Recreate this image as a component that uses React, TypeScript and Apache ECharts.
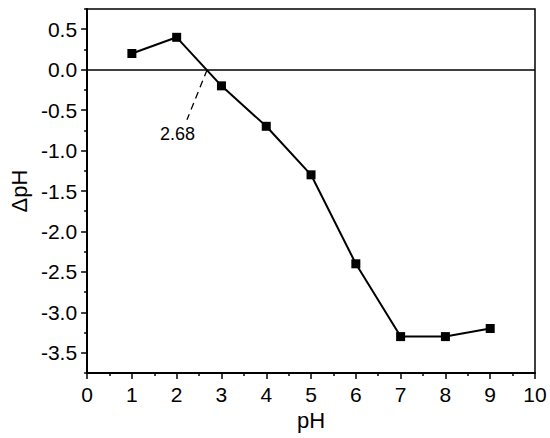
import React, { useEffect, useRef } from "react";
import * as echarts from "echarts";

const phValues = [1, 2, 3, 4, 5, 6, 7, 8, 9];
const deltaPh = [0.2, 0.4, -0.2, -0.7, -1.3, -2.4, -3.3, -3.3, -3.2];
const yMajorTicks = [-3.5, -3.0, -2.5, -2.0, -1.5, -1.0, -0.5, 0.0, 0.5];
const yMinorTicks = [-3.75, -3.25, -2.75, -2.25, -1.75, -1.25, -0.75, -0.25, 0.25, 0.75];
const crossPoint = [2.68, 0];
const leaderEnd = [2.23, -0.62];
const crossLabel = "2.68";
const labelPos = [2.02, -0.8];

const FONT = "Liberation Sans, Arial, sans-serif";

export default function App() {
  const ref = useRef<HTMLDivElement>(null);
  useEffect(() => {
    document.body.style.margin = "0";
    if (!ref.current) return;
    const chart = echarts.init(ref.current, undefined, { renderer: "svg" });
    chart.setOption({
      animation: false,
      backgroundColor: "#fff",
      grid: {
        left: 81,
        right: 15,
        top: 9,
        bottom: 65,
        show: true,
        borderColor: "#000",
        borderWidth: 1.5,
        containLabel: false,
      },
      xAxis: {
        type: "value",
        min: 0,
        max: 10,
        interval: 1,
        name: "pH",
        nameLocation: "middle",
        nameGap: 33,
        nameTextStyle: { fontFamily: FONT, fontSize: 22, color: "#000" },
        axisLine: { show: true, onZero: false, lineStyle: { color: "#000", width: 2 } },
        axisTick: { show: true, inside: false, length: 6, lineStyle: { color: "#000", width: 1.5 } },
        minorTick: { show: true, splitNumber: 2, length: 3, lineStyle: { color: "#000", width: 1.5 } },
        axisLabel: { fontFamily: FONT, fontSize: 21, color: "#000", margin: 11 },
        splitLine: { show: false },
      },
      yAxis: [
        {
          type: "value",
          min: -3.75,
          max: 0.75,
          name: "ΔpH",
          nameLocation: "middle",
          nameGap: 55,
          nameRotate: 90,
          nameTextStyle: { fontFamily: FONT, fontSize: 22, color: "#000" },
          axisLine: { show: true, onZero: false, lineStyle: { color: "#000", width: 2 } },
          axisTick: {
            show: true,
            length: 6,
            customValues: yMajorTicks,
            lineStyle: { color: "#000", width: 1.5 },
          },
          axisLabel: {
            fontFamily: FONT,
            fontSize: 21,
            color: "#000",
            margin: 10,
            customValues: yMajorTicks,
            formatter: (v: number) => v.toFixed(1),
          },
          splitLine: { show: false },
        },
        {
          type: "value",
          min: -3.75,
          max: 0.75,
          position: "left",
          axisLine: { show: false },
          axisTick: {
            show: true,
            length: 3,
            customValues: yMinorTicks,
            lineStyle: { color: "#000", width: 1.5 },
          },
          axisLabel: { show: false },
          splitLine: { show: false },
        },
      ],
      series: [
        {
          type: "line",
          data: phValues.map((x, i) => [x, deltaPh[i]]),
          symbol: "rect",
          symbolSize: 9,
          itemStyle: { color: "#000" },
          lineStyle: { color: "#000", width: 2 },
          markLine: {
            silent: true,
            symbol: ["none", "none"],
            label: { show: false },
            lineStyle: { color: "#000", width: 1.5, type: "solid" },
            data: [{ yAxis: 0 }],
          },
          z: 3,
        },
        {
          type: "line",
          data: [crossPoint, leaderEnd],
          symbol: "none",
          lineStyle: { color: "#000", width: 1.3, type: [7, 5] },
          z: 2,
        },
        {
          type: "scatter",
          data: [labelPos],
          symbolSize: 0,
          itemStyle: { opacity: 1 },
          label: {
            show: true,
            position: "inside",
            formatter: crossLabel,
            fontFamily: FONT,
            fontSize: 18,
            color: "#000",
          },
        },
      ],
    });
    return () => chart.dispose();
  }, []);
  return <div ref={ref} style={{ width: 550, height: 438 }} />;
}
